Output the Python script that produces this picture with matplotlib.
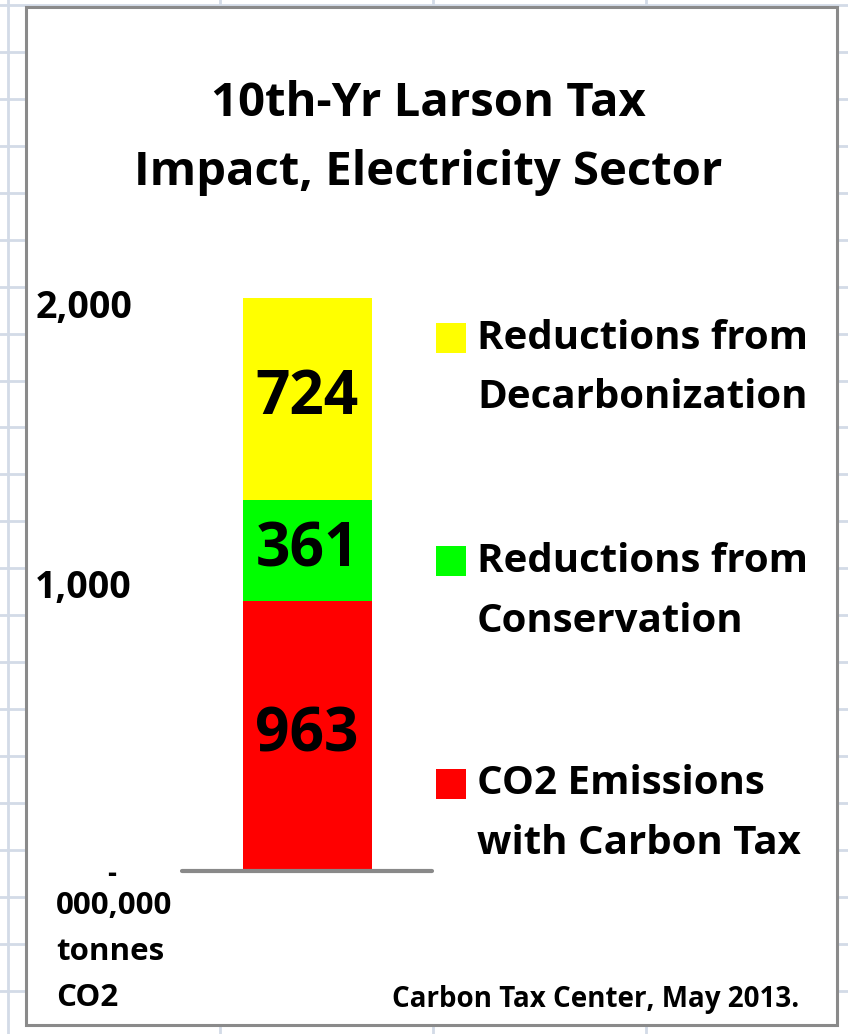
import matplotlib
matplotlib.use("Agg")
import matplotlib.pyplot as plt
from matplotlib.patches import Rectangle
from matplotlib.lines import Line2D

W, H = 848, 1034
FONT = ["Open Sans", "DejaVu Sans"]
plt.rcParams["font.family"] = FONT
plt.rcParams["font.weight"] = "bold"

# data (bottom to top)
segments = ["CO2 Emissions\nwith Carbon Tax", "Reductions from\nConservation",
            "Reductions from\nDecarbonization"]
values = [963, 361, 724]
colors = ["#ff0000", "#00ff00", "#ffff00"]
ytick_vals = [0, 1000, 2000]
ytick_labels = ["-", "1,000", "2,000"]
title_lines = ["10th-Yr Larson Tax", "Impact, Electricity Sector"]
unit_lines = ["000,000", "tonnes", "CO2"]
credit = "Carbon Tax Center, May 2013."


def fx(px):
    return px / W


def fy(py):
    return 1 - py / H


fig = plt.figure(figsize=(W / 100, H / 100), dpi=100)
fig.patch.set_facecolor("white")

# spreadsheet grid behind the chart object
grid_c = "#d3dbe7"
for k in range(23):
    y = 5.1 + 46.93 * k
    fig.add_artist(Line2D([0, 1], [fy(y), fy(y)], color=grid_c, lw=2, zorder=0))
for k in range(5):
    x = 7.5 + 212.7 * k
    fig.add_artist(Line2D([fx(x), fx(x)], [0, 1], color=grid_c, lw=2, zorder=0))

# chart area
fig.add_artist(Rectangle((fx(26), fy(1025)), fx(837) - fx(26), fy(7) - fy(1025),
                         facecolor="white", edgecolor="#8a8a8a", lw=2.2, zorder=1))

# plot axes: baseline at y=871 px, 0.28 px per unit
base_px = 871
scale = 0.28
ytop = 2100
ax = fig.add_axes([fx(182), fy(base_px), fx(432) - fx(182), ytop * scale / H])
ax.set_zorder(2)
ax.patch.set_visible(False)
ax.set_xlim(-0.5, 0.5)
ax.set_ylim(0, ytop)

bottom = 0
for val, col in zip(values, colors):
    ax.bar(0, val, width=0.516, bottom=bottom, color=col, edgecolor="none")
    ax.text(0, bottom + val / 2, str(val), ha="center", va="center",
            fontsize=43.5, fontweight="bold", color="black")
    bottom += val

for s in ["top", "right", "left"]:
    ax.spines[s].set_visible(False)
ax.spines["bottom"].set_color("#898989")
ax.spines["bottom"].set_linewidth(3)
ax.spines["bottom"].set_capstyle("round")
ax.set_xticks([])
ax.set_yticks([])

# y tick labels
for v, lab in zip(ytick_vals, ytick_labels):
    if lab == "-":
        fig.text(fx(112), fy(base_px + 3), lab, ha="center", va="center",
                 fontsize=20, fontweight="bold")
    else:
        fig.text(fx(132), fy(base_px - v * scale - 3), lab, ha="right", va="center",
                 fontsize=27, fontweight="bold")

# unit label
for i, line in enumerate(unit_lines):
    fig.text(fx(56), fy(906 + 46 * i), line, ha="left", va="center",
             fontsize=22.5, fontweight="bold")

# title
for i, line in enumerate(title_lines):
    fig.text(fx(428), fy(103 + 70 * i), line, ha="center", va="center",
             fontsize=34, fontweight="bold")

# legend (top entry first)
leg_y = [338, 561, 784]
for (lab, col), y in zip(list(zip(segments, colors))[::-1], leg_y):
    fig.add_artist(Rectangle((fx(436), fy(y + 15)), fx(30), 30 / H,
                             facecolor=col, edgecolor="none", zorder=3))
    l1, l2 = lab.split("\n")
    fig.text(fx(477), fy(y), l1, ha="left", va="center", fontsize=29, fontweight="bold")
    fig.text(fx(477), fy(y + 60), l2, ha="left", va="center", fontsize=29, fontweight="bold")

fig.text(fx(392), fy(999), credit, ha="left", va="center", fontsize=20, fontweight="bold")

fig.savefig("out.png", dpi=100)
